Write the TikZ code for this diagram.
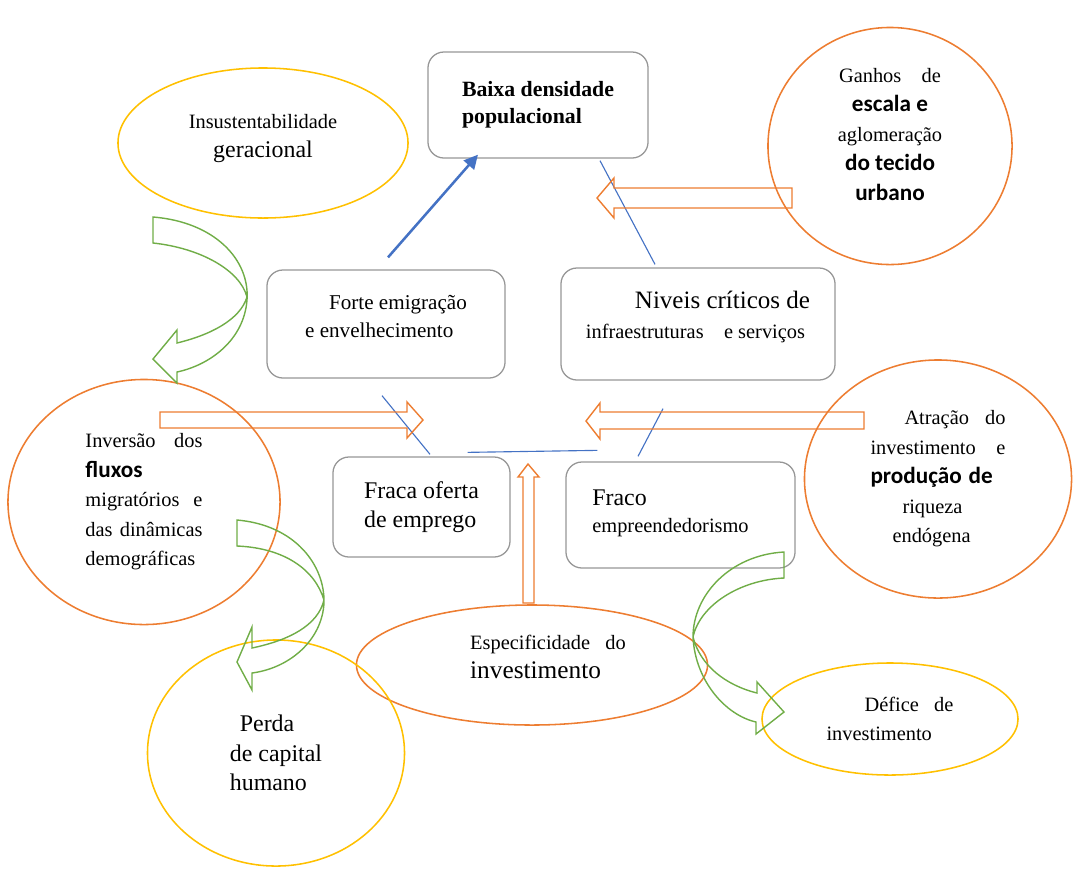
\documentclass[tikz,border=0pt]{standalone}
\usepackage{fontspec}
\setmainfont{Liberation Serif}[BoldFont={Liberation Serif Bold}]
\newfontfamily\calfont{Carlito}
\usetikzlibrary{shapes.geometric,arrows.meta,positioning,calc}
\definecolor{cblue}{RGB}{68,114,196}
\definecolor{corange}{RGB}{237,125,49}
\definecolor{cyellow}{RGB}{255,192,0}
\definecolor{cgreen}{RGB}{112,173,71}
\definecolor{cgray}{RGB}{150,150,150}
\newcommand{\tsmall}{\fontsize{14.5}{21}\selectfont}
\newcommand{\tbig}{\fontsize{17}{21}\selectfont}
\newcommand{\tcal}{\calfont\bfseries\fontsize{16.5}{21}\selectfont}

\begin{document}
\begin{tikzpicture}[x=0.025cm, y=-0.025cm,
    box/.style={draw=cgray, line width=0.9pt, rounded corners=0.4cm, font=\tsmall},
    oval/.style={ellipse, line width=1.1pt, inner sep=0pt, font=\tsmall},
    link/.style={cblue, line width=0.8pt},
    barr/.style={-{Triangle[length=3.5mm,width=3.4mm]}, cblue, line width=1.8pt},
    blockarr/.style={draw=corange, line width=1pt, line join=miter},
    curvarr/.style={draw=cgreen, line width=1pt, line join=miter}
]
\useasboundingbox (0,0) rectangle (1075,870);

% Boxes
\node[box, minimum width=5.5cm, minimum height=2.65cm, align=left,
      font=\fontsize{15.5}{19}\selectfont\bfseries] (baixa) at (538,105) {Baixa densidade\\populacional};
\node[box, minimum width=5.95cm, minimum height=2.7cm, align=left, text depth=0.4cm,
      font=\fontsize{15}{20}\selectfont] (forte) at (386,324)
    {\hspace*{0.6cm}Forte emigração\\e envelhecimento};
\node[box, minimum width=6.85cm, minimum height=2.8cm, align=left, text depth=0.47cm] (niveis) at (698,324)
    {\hspace*{1.225cm}{\fontsize{17.8}{21}\selectfont Niveis críticos de}\\infraestruturas\quad e serviços};
\node[box, minimum width=4.425cm, minimum height=2.5cm, align=left, font=\tbig] (fraca) at (421.5,507)
    {Fraca oferta\\de emprego};
\node[box, minimum width=5.725cm, minimum height=2.65cm, align=left, text depth=0.2cm,
      font=\fontsize{14.5}{19.5}\selectfont] (fraco) at (680.5,515)
    {{\tbig Fraco}\\empreendedorismo\hspace*{0.5cm}};

% Ellipses
\node[oval, draw=cyellow, minimum width=7.25cm, minimum height=3.75cm, align=center, text depth=0.35cm] (insust) at (263,143)
    {Insustentabilidade\\{\tbig geracional}};
\node[oval, draw=corange, minimum width=6.1cm, minimum height=5.925cm, align=center, text depth=0.6cm] (ganhos) at (890,146)
    {Ganhos\quad de\\{\tcal escala e}\\aglomeração\\{\tcal do tecido}\\{\tcal urbano}};
\node[oval, draw=corange, minimum width=6.8cm, minimum height=6.125cm, text width=2.925cm, align=left] (inversao) at (144,502)
    {Inversão\hfill dos\\{\tcal fluxos}\\migratórios\hfill e\\das\hfill dinâmicas\\demográficas};
\node[oval, draw=corange, minimum width=6.675cm, minimum height=5.95cm, text width=3.375cm, align=left] (atracao) at (938,479)
    {\hspace*{0.85cm}Atração\hfill do\\investimento\hfill e\\{\tcal produção de}\\\hspace*{0.8cm}riqueza\\\hspace*{0.55cm}endógena};
\node[oval, draw=corange, minimum width=8.775cm, minimum height=3cm, align=left, text depth=0.4cm] (especif) at (532,665)
    {\hspace*{0.8cm}Especificidade\enspace\ do\\\hspace*{0.8cm}{\fontsize{18}{21}\selectfont investimento}};
\node[oval, draw=cyellow, minimum width=6.425cm, minimum height=5.65cm, align=left, font=\tbig] (perda) at (276,753)
    {\hspace*{0.25cm}Perda\\de capital\\humano};
\node[oval, draw=cyellow, minimum width=6.4cm, minimum height=2.8cm, align=left] (defice) at (890,719)
    {\hspace*{0.95cm}Défice\enspace\ de\\investimento};

% Blue links
\draw[barr] ($(forte.north)+(2,-12)$) -- ($(baixa.south)+(-60,-4)$);
\draw[link] ($(baixa.south)+(62,2)$) -- ($(niveis.north)+(-43,-3)$);
\draw[link] ($(forte.south)+(-4,17)$) -- ($(fraca.north)+(8.5,-2)$);
\draw[link] ($(fraca.north east)+(-43,-4)$) -- ($(fraco.north west)+(32,-11)$);
\draw[link] ($(niveis.south)+(-35,28)$) -- ($(fraco.north)+(-42.5,-5)$);

% Orange block arrows
\draw[blockarr] (160,412) -- (407,412) -- (407,402) -- (423,420) -- (407,438) -- (407,428) -- (160,428) -- cycle;
\draw[blockarr] (864,412) -- (600,412) -- (600,403) -- (586,421) -- (600,439) -- (600,429) -- (864,429) -- cycle;
\draw[blockarr] (792,188) -- (614,188) -- (614,178) -- (597,198) -- (614,218) -- (614,208) -- (792,208) -- cycle;
\draw[blockarr] (523,603) -- (523,477) -- (518,477) -- (528,464) -- (539,477) -- (534,477) -- (534,603) -- cycle;

% Green curved arrows
\draw[curvarr] (153,217) .. controls (215,222) and (250,260) .. (247,300)
    .. controls (244,340) and (210,365) .. (177,372) -- (177,383) -- (153,359) -- (177,330) -- (177,343)
    .. controls (210,335) and (240,320) .. (247,297) .. controls (240,270) and (200,248) .. (153,243) -- cycle;
\draw[curvarr] (237,520) .. controls (295,525) and (325,565) .. (324,603)
    .. controls (322,640) and (290,668) .. (252,673) -- (252,690) -- (237,662) -- (252,627) -- (252,648)
    .. controls (290,640) and (318,625) .. (324,600) .. controls (315,570) and (285,548) .. (237,546) -- cycle;
\draw[curvarr] (784,552) .. controls (730,555) and (693,595) .. (693,637)
    .. controls (695,680) and (725,715) .. (756,722) -- (756,734) -- (784,712) -- (757,682) -- (757,693)
    .. controls (725,685) and (700,665) .. (693,637) .. controls (700,605) and (740,580) .. (784,578) -- cycle;

\end{tikzpicture}
\end{document}
